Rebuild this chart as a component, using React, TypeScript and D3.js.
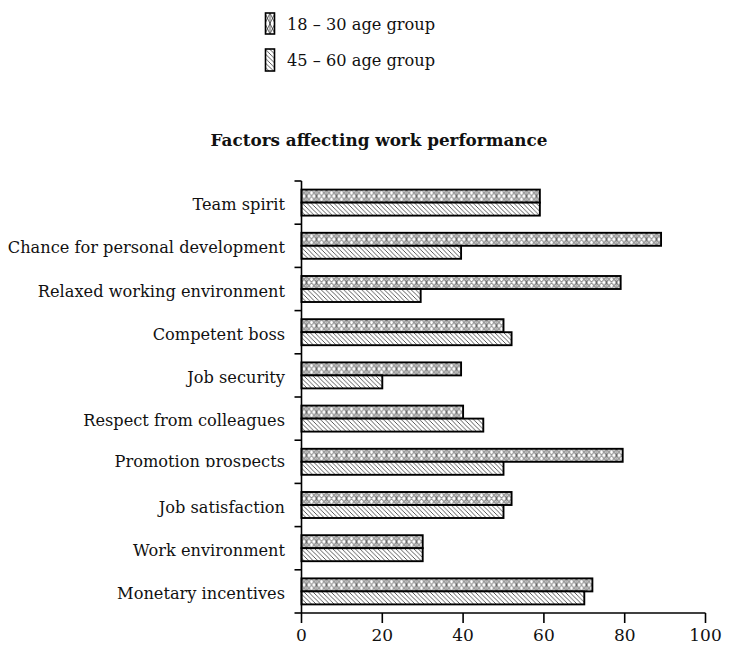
import React from "react";
import * as d3 from "d3";

const categories = [
  "Team spirit",
  "Chance for personal development",
  "Relaxed working environment",
  "Competent boss",
  "Job security",
  "Respect from colleagues",
  "Promotion prospects",
  "Job satisfaction",
  "Work environment",
  "Monetary incentives",
];
const young = [59, 89, 79, 50, 39.5, 40, 79.5, 52, 30, 72];
const older = [59, 39.5, 29.5, 52, 20, 45, 50, 50, 30, 70];
const seriesNames = ["18 \u2013 30 age group", "45 \u2013 60 age group"];
const xTicks = [0, 20, 40, 60, 80, 100];
const title = "Factors affecting work performance";

const W = 736;
const H = 663;
const FONT = "'DejaVu Serif', serif";

export default function App() {
  const x = d3.scaleLinear().domain([0, 100]).range([301.5, 705.5]);
  const y = d3.scaleBand<string>().domain(categories).range([181, 613]).paddingInner(0);
  const barH = 13;
  const band = y.bandwidth();

  const starTile = (id: string, px: number, py: number, h: number) => (
    <pattern key={id} id={id} patternUnits="userSpaceOnUse" x={px} y={py} width={10} height={h}>
      <rect width={10} height={h} fill="#fff" />
      <path
        d={`M0,0 L10,${h} M10,0 L0,${h} M5,0 L5,${h} M0,${h / 2} L5,0 L10,${h / 2} L5,${h} Z`}
        stroke="#333"
        strokeWidth={0.75}
        fill="none"
      />
    </pattern>
  );

  // the "Promotion prospects" label sits a little higher and loses its descenders
  const labelShift = (c: string) => (c === "Promotion prospects" ? -2.5 : 0);

  return (
    <svg
      width={W}
      height={H}
      style={{ position: "absolute", left: 0, top: 0, background: "#fff" }}
      fontFamily={FONT}
    >
      <defs>
        <pattern id="hatch" patternUnits="userSpaceOnUse" width={4.5} height={4.5}>
          <rect width={4.5} height={4.5} fill="#fff" />
          <path d="M0,0 L4.5,4.5 M-1,3.5 L1,5.5 M3.5,-1 L5.5,1" stroke="#333" strokeWidth={0.8} />
        </pattern>
        {categories.map((c, i) => starTile(`star-${i}`, x(0), (y(c) as number) + band / 2 - barH, barH))}
        {starTile("star-legend", 265, 13, 21)}
        {categories.map((c, i) => (
          <clipPath key={c} id={`lab-${i}`}>
            <rect
              x={0}
              y={(y(c) as number) + band / 2 - 20}
              width={300}
              height={c === "Promotion prospects" ? 25.5 : 40}
            />
          </clipPath>
        ))}
      </defs>

      {/* legend */}
      <g>
        <rect x={265.5} y={13} width={9} height={21} fill="url(#star-legend)" stroke="#000" strokeWidth={1.6} />
        <text x={287} y={24} dominantBaseline="central" fontSize={16.2} fill="#111">
          {seriesNames[0]}
        </text>
        <rect x={265.5} y={49} width={9} height={22} fill="url(#hatch)" stroke="#000" strokeWidth={1.6} />
        <text x={287} y={60} dominantBaseline="central" fontSize={16.2} fill="#111">
          {seriesNames[1]}
        </text>
      </g>

      {/* title */}
      <text x={379} y={140} textAnchor="middle" dominantBaseline="central" fontSize={16.8} fontWeight="bold" fill="#111">
        {title}
      </text>

      {/* bars */}
      {categories.map((c, i) => {
        const cy = (y(c) as number) + band / 2;
        return (
          <g key={c}>
            <rect
              x={x(0)}
              y={cy - barH}
              width={x(young[i]) - x(0)}
              height={barH}
              fill={`url(#star-${i})`}
              stroke="#000"
              strokeWidth={1.9}
            />
            <rect
              x={x(0)}
              y={cy}
              width={x(older[i]) - x(0)}
              height={barH}
              fill="url(#hatch)"
              stroke="#000"
              strokeWidth={1.9}
            />
            <text
              x={285}
              y={cy + 2 + labelShift(c)}
              textAnchor="end"
              dominantBaseline="central"
              fontSize={16.2}
              fill="#111"
              clipPath={`url(#lab-${i})`}
            >
              {c}
            </text>
          </g>
        );
      })}

      {/* y axis */}
      <line x1={x(0)} x2={x(0)} y1={181} y2={613} stroke="#000" strokeWidth={1.6} />
      {d3.range(categories.length + 1).map((k) => {
        const ty = 181 + k * band;
        return <line key={k} x1={x(0) - 7} x2={x(0)} y1={ty} y2={ty} stroke="#000" strokeWidth={1.6} />;
      })}

      {/* x axis */}
      <line x1={x(0)} x2={x(100)} y1={613} y2={613} stroke="#000" strokeWidth={1.6} />
      {xTicks.map((t) => (
        <g key={t}>
          <line x1={x(t)} x2={x(t)} y1={613} y2={623} stroke="#000" strokeWidth={1.6} />
          <text x={x(t)} y={635} textAnchor="middle" dominantBaseline="central" fontSize={17} fill="#111">
            {t}
          </text>
        </g>
      ))}
    </svg>
  );
}
